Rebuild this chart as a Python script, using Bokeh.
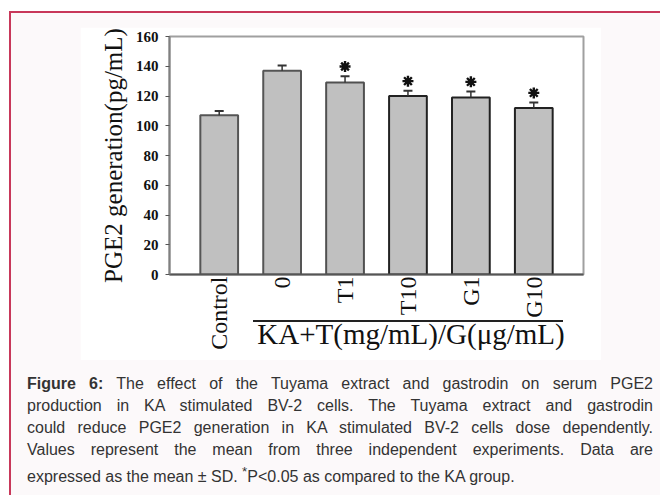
import math
from bokeh.plotting import figure
from bokeh.layouts import column
from bokeh.models import Div, Range1d, FactorRange, SingleIntervalTicker
from bokeh.embed import file_html
from bokeh.resources import INLINE

# ---- data ----
cats = ["Control", "0", "T1", "T10", "G1", "G10"]
means = [107, 137, 129, 120, 119, 112]
sds = [3.0, 3.5, 4.3, 3.5, 4.0, 3.6]
significant = [False, False, True, True, True, True]
y_label = "PGE2 generation(pg/mL)"
group_label = "KA+T(mg/mL)/G(\u03bcg/mL)"
caption_lines = [
    "<b>Figure 6:</b> The effect of the Tuyama extract and gastrodin on serum PGE2",
    "production in KA stimulated BV-2 cells. The Tuyama extract and gastrodin",
    "could reduce PGE2 generation in KA stimulated BV-2 cells dose dependently.",
    "Values represent the mean from three independent experiments. Data are",
    "expressed as the mean \u00b1 SD. <sup>*</sup>P&lt;0.05 as compared to the KA group.",
]

caps = [m + s for m, s in zip(means, sds)]
star_x = [c for c, g in zip(cats, significant) if g]
star_y = [m + s + 6.5 for m, s, g in zip(means, sds, significant) if g]

SERIF = "Liberation Serif"

p = figure(
    x_range=FactorRange(*cats, range_padding=0.58 / 6),
    y_range=Range1d(0, 160),
    width=521, height=333,
    min_border_left=89, min_border_right=18, min_border_top=9, min_border_bottom=86,
    output_backend="svg", toolbar_location=None,
    background_fill_color="white", border_fill_color="white",
    outline_line_color="#a0a0a0", outline_line_width=2,
)
p.margin = (14, 0, 0, 69)

p.vbar(x=cats, top=means, width=0.6, fill_color="#c0c0c0",
       line_color=["#555555", "#555555", "#505050", "#222222", "#222222", "#222222"],
       line_width=2)
p.segment(x0=cats, y0=means, x1=cats, y1=caps, line_color="#333333", line_width=1.5)
p.scatter(x=cats, y=caps, marker="dash", size=9, line_color="#333333", line_width=2)
p.scatter(x=star_x, y=star_y, marker="asterisk", size=11, line_color="#111111", line_width=2.4)

p.xgrid.visible = False
p.ygrid.visible = False

xa = p.xaxis[0]
xa.major_label_orientation = math.pi / 2
xa.major_tick_line_color = None
xa.major_tick_out = 0
xa.major_tick_in = 0
xa.minor_tick_line_color = None
xa.axis_line_color = "#555555"
xa.axis_line_width = 2
xa.major_label_text_font = SERIF
xa.major_label_text_font_size = "24px"
xa.major_label_text_color = "#111111"
xa.major_label_standoff = 2

ya = p.yaxis[0]
ya.ticker = SingleIntervalTicker(interval=20, num_minor_ticks=0)
ya.axis_line_color = "#808080"
ya.axis_line_width = 2
ya.major_tick_out = 4
ya.major_tick_in = 0
ya.major_tick_line_color = "#555555"
ya.minor_tick_line_color = None
ya.major_label_standoff = 7
ya.major_label_text_font = SERIF
ya.major_label_text_font_style = "bold"
ya.major_label_text_font_size = "15px"
ya.major_label_text_color = "#111111"
ya.axis_label = y_label
ya.axis_label_text_font = SERIF
ya.axis_label_text_font_style = "normal"
ya.axis_label_text_font_size = "25px"
ya.axis_label_text_color = "#111111"
ya.axis_label_standoff = 6

# group label with its bar, laid over the lower part of the chart image
group_div = Div(
    text=(
        '<div style="position:relative;width:400px;height:40px;">'
        '<div style="position:absolute;left:42px;top:4px;width:310px;height:2px;background:#222222;"></div>'
        f'<div style="position:absolute;left:0px;top:4px;width:400px;text-align:center;'
        f'font-family:\'Liberation Serif\',serif;font-size:29px;line-height:28px;color:#111111;'
        f'white-space:nowrap;">{group_label}</div>'
        '</div>'
    ),
    width=400, height=40, margin=(-44, 0, 0, 200),
)

line_html = []
for i, ln in enumerate(caption_lines):
    last = "left" if i == len(caption_lines) - 1 else "justify"
    line_html.append(
        f'<div style="white-space:nowrap;text-align:justify;text-align-last:{last};'
        f'height:22px;line-height:22px;width:626px;">{ln}</div>'
    )
cap = Div(
    text='<div style="font-family:\'Liberation Sans\',Arial,sans-serif;'
         'font-size:16px;color:#333333;">' + "".join(line_html) + "</div>",
    width=626, height=115, margin=(17, 0, 0, 16),
)

root = column(
    p, group_div, cap, width=651, height=484, margin=(11, 0, 0, 9),
    styles={"background-color": "#fcf9fa", "border-left": "2px solid #c8385a",
            "border-top": "2px solid #c8385a", "box-sizing": "border-box"},
)

open("out.html", "w").write(file_html(root, INLINE))
